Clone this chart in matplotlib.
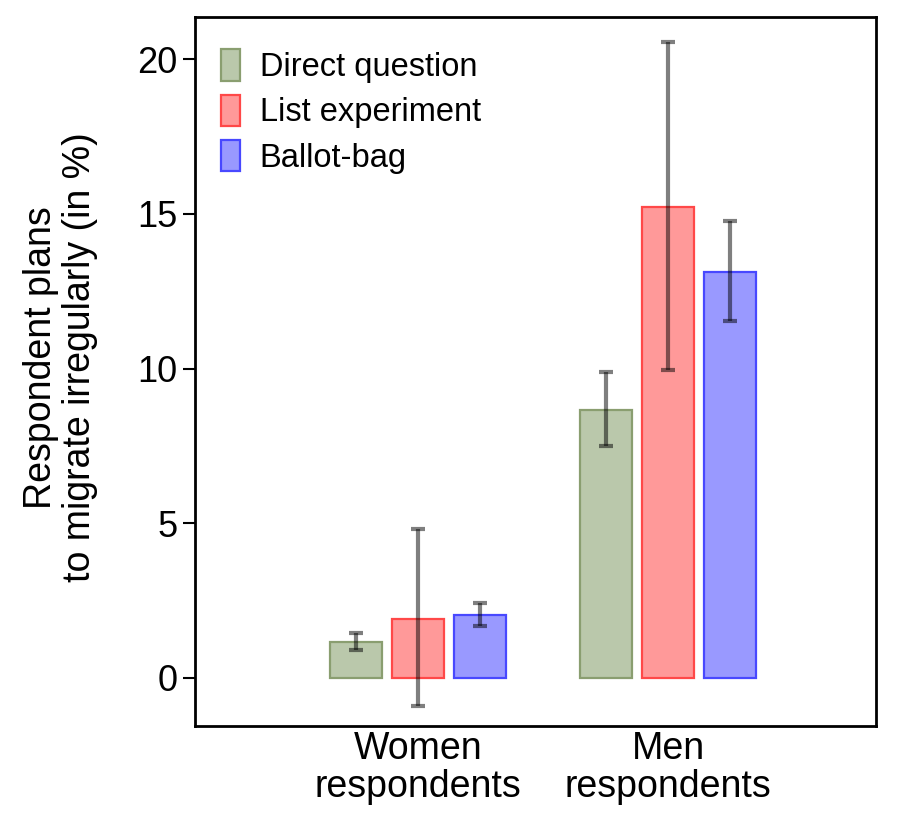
import numpy as np
import matplotlib
matplotlib.use("Agg")
import matplotlib.pyplot as plt

plt.rcParams['font.family'] = ['Liberation Sans', 'DejaVu Sans']

groups = ["Women\nrespondents", "Men\nrespondents"]
methods = ["Direct question", "List experiment", "Ballot-bag"]
# estimates (%) per method, [women, men]
values = {
    "Direct question": [1.16, 8.66],
    "List experiment": [1.9, 15.22],
    "Ballot-bag": [2.04, 13.12],
}
lower = {
    "Direct question": [0.90, 7.5],
    "List experiment": [-0.9, 9.95],
    "Ballot-bag": [1.68, 11.53],
}
upper = {
    "Direct question": [1.45, 9.89],
    "List experiment": [4.81, 20.55],
    "Ballot-bag": [2.42, 14.77],
}
faces = ["#bac8ab", "#ff9999", "#9999ff"]
edges = ["#8a9e70", "#ff4848", "#4848ff"]

f, ax = plt.subplots(figsize=(9.08, 8.21), dpi=100)
f.subplots_adjust(left=0.215, right=0.965, bottom=0.116, top=0.979)

x = np.array([1.0, 2.0])
step = 0.248
width = 0.208
for i, m in enumerate(methods):
    xs = x + (i - 1) * step
    v = np.array(values[m])
    err = [v - np.array(lower[m]), np.array(upper[m]) - v]
    ax.bar(xs, v, width=width, color=faces[i], edgecolor=edges[i],
           linewidth=1.6, label=m, zorder=2)
    ax.errorbar(xs, v, yerr=err, fmt='none', ecolor='black', alpha=0.5,
                elinewidth=3, capsize=4.7, capthick=3, zorder=3)

ax.set_xlim(0.108, 2.832)
ax.set_ylim(-1.55, 21.36)
ax.set_xticks(x)
ax.set_xticklabels(groups, fontsize=27, linespacing=1.05)
ax.set_yticks([0, 5, 10, 15, 20])
ax.tick_params(axis='y', labelsize=26, length=9, width=1.5, pad=4)
ax.tick_params(axis='x', length=0, pad=4)
for s in ax.spines.values():
    s.set_linewidth(2)
ax.set_ylabel("Respondent plans\nto migrate irregularly (in %)", fontsize=27,
              linespacing=1.1)
ax.yaxis.set_label_coords(-0.143, 0.52)

ax.legend(loc='upper left', frameon=False, fontsize=23.5, handlelength=0.6,
          handleheight=1.1, handletextpad=0.6, labelspacing=0.35,
          borderaxespad=0.5, borderpad=0.4, bbox_to_anchor=(-0.006, 0.996))

plt.savefig("out.png", dpi=100)
